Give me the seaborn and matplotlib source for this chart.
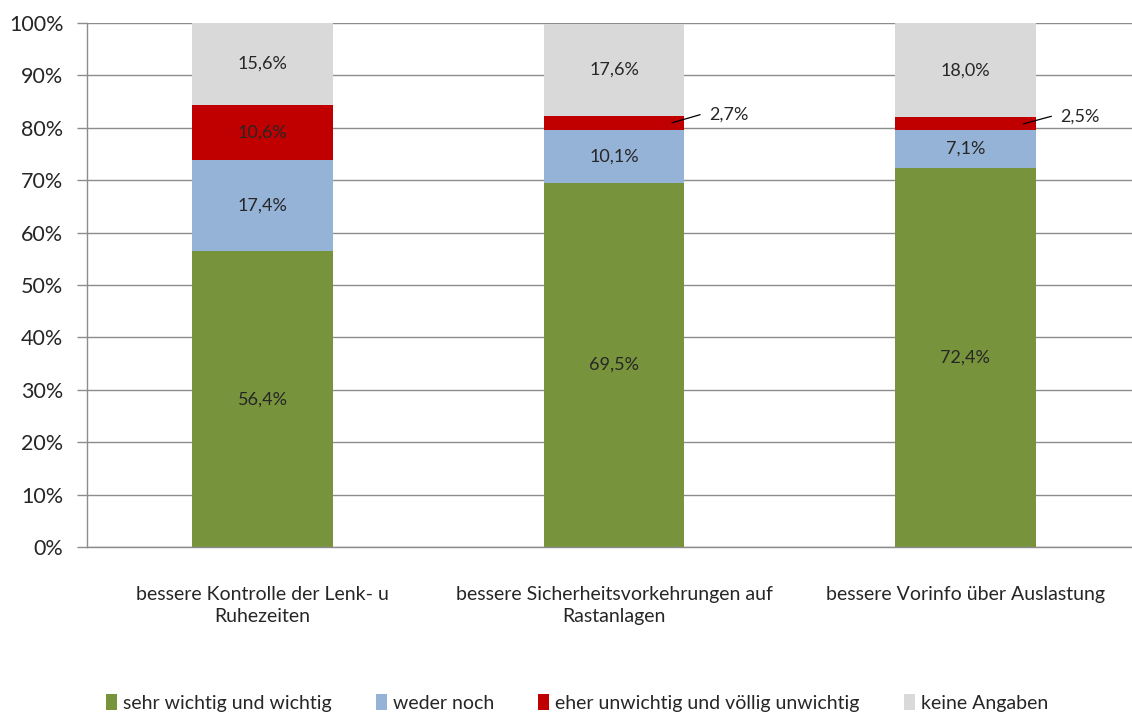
import matplotlib
matplotlib.use("Agg")
import matplotlib.pyplot as plt
import seaborn as sns
import pandas as pd
import numpy as np
from matplotlib.patches import Patch

categories = ["bessere Kontrolle der Lenk- u\nRuhezeiten",
              "bessere Sicherheitsvorkehrungen auf\nRastanlagen",
              "bessere Vorinfo über Auslastung"]
series_names = ["sehr wichtig und wichtig", "weder noch",
                "eher unwichtig und völlig unwichtig", "keine Angaben"]
sehr_wichtig = [56.4, 69.5, 72.4]
weder_noch = [17.4, 10.1, 7.1]
unwichtig = [10.6, 2.7, 2.5]
keine_angaben = [15.6, 17.6, 18.0]
colors = ["#77933C", "#95B3D7", "#C00000", "#D9D9D9"]
yticks = [0, 10, 20, 30, 40, 50, 60, 70, 80, 90, 100]

sns.set_theme(style="white")
plt.rcParams['font.family'] = ['Lato', 'DejaVu Sans']

fig = plt.figure(figsize=(11.32, 7.13), dpi=100)
ax = fig.add_axes([87/1132, 166/713, 1054/1132, 524/713])

series = [sehr_wichtig, weder_noch, unwichtig, keine_angaben]
bottom = np.zeros(len(categories))
for name, vals, col in zip(series_names, series, colors):
    df = pd.DataFrame({"cat": categories, "val": vals})
    sns.barplot(data=df, x="cat", y="val", order=categories, color=col,
                width=0.4, bottom=bottom, ax=ax, linewidth=0, saturation=1)
    bottom = bottom + np.array(vals)

# labels
for i, cont in enumerate(ax.containers):
    vals = series[i]
    for j, (bar, v) in enumerate(zip(cont, vals)):
        cx = bar.get_x() + bar.get_width() / 2
        cy = bar.get_y() + bar.get_height() / 2
        txt = f"{v:.1f}%".replace(".", ",")
        if v < 5:
            x0, x1 = cx + 0.165, cx + 0.245
            y0, y1 = cy, bar.get_y() + bar.get_height() + 0.2
            ax.plot([x0, x1], [y0, y1], color="black", lw=0.9, clip_on=False)
            ax.text(cx + 0.27, y1, txt, ha="left", va="center",
                    fontsize=13, color="#262626")
        else:
            ax.text(cx, cy, txt, ha="center", va="center", fontsize=13,
                    color="#262626")

ax.set_ylim(0, 100)
ax.set_xlim(-0.5, 2.5)
ax.set_yticks(yticks)
ax.set_yticklabels([f"{t}%" for t in yticks], fontsize=15.5, color="#262626")
ax.yaxis.grid(True, color="#8C8C8C", lw=1)
ax.set_axisbelow(True)
ax.set_xlabel("")
ax.set_ylabel("")
ax.set_xticks([0, 1, 2])
ax.set_xticklabels(categories, fontsize=14, color="#262626", linespacing=1.35)
ax.tick_params(axis="x", which="major", length=0, pad=28)
ax.set_xticks([-0.5, 0.5, 1.5, 2.5], minor=True)
ax.tick_params(axis="x", which="minor", length=8, color="#8C8C8C", width=1, direction="out")
ax.tick_params(axis="y", length=7, color="#8C8C8C", width=1, direction="out", pad=10, left=True)
for s in ["top", "right"]:
    ax.spines[s].set_visible(False)
for s in ["left", "bottom"]:
    ax.spines[s].set_color("#8C8C8C")
    ax.spines[s].set_linewidth(1)

handles = [Patch(facecolor=c, edgecolor="none") for c in colors]
fig.legend(handles, series_names, loc="center", bbox_to_anchor=(577/1132, 1 - 703/713),
           ncol=4, frameon=False, fontsize=14, handlelength=0.55, handleheight=0.9,
           handletextpad=0.3, columnspacing=2.3, labelcolor="#262626")

fig.savefig("out.png", dpi=100)
